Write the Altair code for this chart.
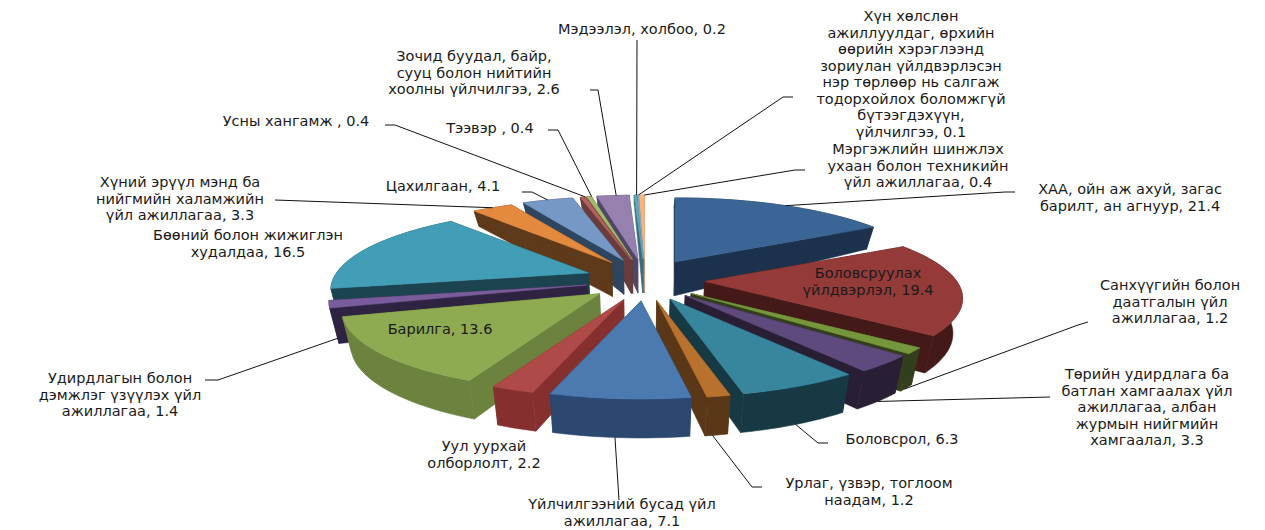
import numpy as np
import pandas as pd
import altair as alt

# ---- data: sector name, value, clockwise from 12 o'clock
names = ["ХАА", "Боловсруулах", "Санхүү", "Төрийн", "Боловсрол", "Урлаг", "Үйлчилгээ", "Уул", "Барилга",
         "Удирдлага", "Бөөний", "Хүний", "Цахилгаан", "Усны", "Тээвэр", "Зочид", "Мэдээлэл", "Хүн", "Мэргэжил"]
values = [21.4, 19.4, 1.2, 3.3, 6.3, 1.2, 7.1, 2.2, 13.6, 1.4, 16.5, 3.3, 4.1, 0.4, 0.4, 2.6, 0.2, 0.1, 0.4]
top_colors = ["#3A6595", "#943B39", "#76963C", "#5E4A7C", "#37869D", "#B8722E", "#4A7AB0", "#AE4A47", "#8EAB52",
              "#7A5C9C", "#429DB6", "#E38A3E", "#7598C5", "#B5615F", "#A0BC6A", "#9580AE", "#5CA9BF", "#8FB0D0", "#F8B27A"]
side_colors = ["#1C324C", "#431A18", "#333F1C", "#281F35", "#173943", "#5A3717", "#2C4770", "#85302E", "#6C823F",
               "#2F2342", "#1C4350", "#5E391A", "#2E4560", "#6A3D3C", "#5E4038", "#50466A", "#3B6C7A", "#6A8098", "#B88A66"]

# ---- text labels: lines, centre x, first-line y
labels = [
    (["Мэдээлэл, холбоо, 0.2"], 642, 30),
    (["Хүн хөлслөн", "ажиллуулдаг, өрхийн", "өөрийн хэрэглээнд", "зориулан үйлдвэрлэсэн", "нэр төрлөөр нь салгаж",
      "тодорхойлох боломжгүй", "бүтээгдэхүүн,", "үйлчилгээ, 0.1"], 911, 17),
    (["Мэргэжлийн шинжлэх", "ухаан болон техникийн", "үйл ажиллагаа, 0.4"], 918, 150),
    (["ХАА, ойн аж ахуй, загас", "барилт, ан агнуур,  21.4"], 1130, 190),
    (["Боловсруулах", "үйлдвэрлэл, 19.4"], 868, 274),
    (["Санхүүгийн болон", "даатгалын үйл", "ажиллагаа, 1.2"], 1170, 286),
    (["Төрийн удирдлага ба", "батлан хамгаалах үйл", "ажиллагаа, албан", "журмын нийгмийн", "хамгаалал, 3.3"], 1147, 375),
    (["Боловсрол, 6.3"], 902, 440),
    (["Урлаг, үзвэр, тоглоом", "наадам, 1.2"], 869, 484),
    (["Үйлчилгээний бусад үйл", "ажиллагаа, 7.1"], 622, 505),
    (["Уул уурхай", "олборлолт, 2.2"], 484, 447),
    (["Барилга, 13.6"], 440, 330),
    (["Удирдлагын болон", "дэмжлэг үзүүлэх үйл", "ажиллагаа, 1.4"], 120, 379),
    (["Бөөний болон жижиглэн", "худалдаа, 16.5"], 248, 236),
    (["Хүний эрүүл мэнд ба", "нийгмийн халамжийн", "үйл ажиллагаа, 3.3"], 180, 183),
    (["Цахилгаан, 4.1"], 443, 187),
    (["Усны хангамж , 0.4"], 296, 122),
    (["Тээвэр , 0.4"], 490, 129),
    (["Зочид буудал, байр,", "сууц болон нийтийн", "хоолны үйлчилгээ, 2.6"], 474, 57),
]
# ---- leader lines: sector index, on lower rim?, then the elbow/label points
leaders = [
    (16, False, [(637, 40)]),
    (17, False, [(783, 97), (793, 97)]),
    (18, False, [(795, 170), (805, 170)]),
    (0, False, [(1005, 192), (1015, 192)]),
    (2, True, [(1078, 325), (1088, 322)]),
    (3, True, [(1050, 397)]),
    (4, True, [(818, 443), (828, 443)]),
    (5, True, [(752, 487), (762, 487)]),
    (6, True, [(619, 500)]),
    (9, True, [(218, 380), (205, 380)]),
    (11, False, [(275, 200)]),
    (12, False, [(532, 192), (522, 192)]),
    (13, False, [(395, 125), (385, 125)]),
    (14, False, [(558, 130), (548, 130)]),
    (15, False, [(598, 90), (590, 90)]),
]

# ---- 3-D view parameters
CX, CY = 645, 280
EX, EY = 60, 21          # explosion
RX, RY, K = 252, 77.4, 0.21  # radius and perspective
DEPTH = 34
W, H = 1249, 520
warp_knots = [0, 73, 140, 180, 212, 255, 320, 360]
warp_offs = [0, -13, -12, -10, -8, -6, 0, 0]


def warp(a):
    return a + np.interp(a, warp_knots, warp_offs)


def rim(t):
    r = np.radians(t)
    u, v = np.sin(r), -np.cos(r)
    s = 1 / (1 - K * v)
    return RX * u * s, RY * v * s, v


def wall(v):
    return DEPTH + (5 * v if v > 0 else 24 * v)


def low_x(x):
    return 640 + (x - 640) * 0.97


total = sum(values)
edges = np.cumsum([0] + values) / total * 360
slices = []
for i in range(len(values)):
    a0, a1 = warp(edges[i]), warp(edges[i + 1])
    m = (a0 + a1) / 2
    ax = CX + EX * np.sin(np.radians(m))
    ay = CY - EY * np.cos(np.radians(m))
    n = max(2, int((a1 - a0) / 2) + 2)
    ts = np.linspace(a0, a1, n)
    up = []
    lo = []
    for t in ts:
        dx, dy, v = rim(t)
        x, y = ax + dx, ay + dy
        up.append((x, y))
        lo.append((low_x(x), y + wall(v)))
    slices.append(dict(i=i, m=m, ax=ax, ay=ay, up=up, lo=lo))

rows = []
pid = 0


def add(pts, color):
    global pid
    for k, (x, y) in enumerate(pts):
        rows.append(dict(x=x, y=y, p=pid, k=k, c=color))
    pid += 1


for sl in sorted(slices, key=lambda s: -np.cos(np.radians(s["m"]))):
    i = sl["i"]
    apex = (sl["ax"], sl["ay"])
    apex_lo = (low_x(sl["ax"]), sl["ay"] + DEPTH)
    add([apex, sl["up"][0], sl["lo"][0], apex_lo], side_colors[i])
    add([apex, sl["up"][-1], sl["lo"][-1], apex_lo], side_colors[i])
    add(sl["up"] + sl["lo"][::-1], side_colors[i])
    add([apex] + sl["up"], top_colors[i])

poly = pd.DataFrame(rows)

lead_rows = []
for j, (idx, lower, pts) in enumerate(leaders):
    sl = slices[idx]
    arr = sl["lo"] if lower else sl["up"]
    start = arr[len(arr) // 2]
    for k, (x, y) in enumerate([start] + pts):
        lead_rows.append(dict(x=x, y=y, p=j, k=k))
lead = pd.DataFrame(lead_rows)

text_rows = []
for lines, x, y in labels:
    for n, line in enumerate(lines):
        text_rows.append(dict(x=x, y=y + n * 16.5, t=line))
txt = pd.DataFrame(text_rows)

xs = alt.Scale(domain=[8, 8 + W], range=[0, W], nice=False, zero=False)
ys = alt.Scale(domain=[8, 8 + H], range=[0, H], nice=False, zero=False)
X = alt.X("x:Q", scale=xs, axis=None)
Y = alt.Y("y:Q", scale=ys, axis=None)

polys = alt.Chart(poly).mark_line(strokeWidth=0.6, interpolate="linear-closed").encode(
    x=X, y=Y, detail="p:N", order="k:Q",
    fill=alt.Fill("c:N", scale=None), stroke=alt.Stroke("c:N", scale=None))
lines_ = alt.Chart(lead).mark_line(color="#111111", strokeWidth=1).encode(
    x=X, y=Y, detail="p:N", order="k:Q")
texts = alt.Chart(txt).mark_text(font="DejaVu Sans", fontSize=14.5, color="#1a1a1a", align="center",
                                 baseline="middle").encode(x=X, y=Y, text="t:N")

chart = alt.layer(polys, lines_, texts).properties(
    width=W, height=H, padding=0, background="white"
).configure_view(stroke=None)
chart.save("out.html", embed_options={"renderer": "svg", "actions": False})
